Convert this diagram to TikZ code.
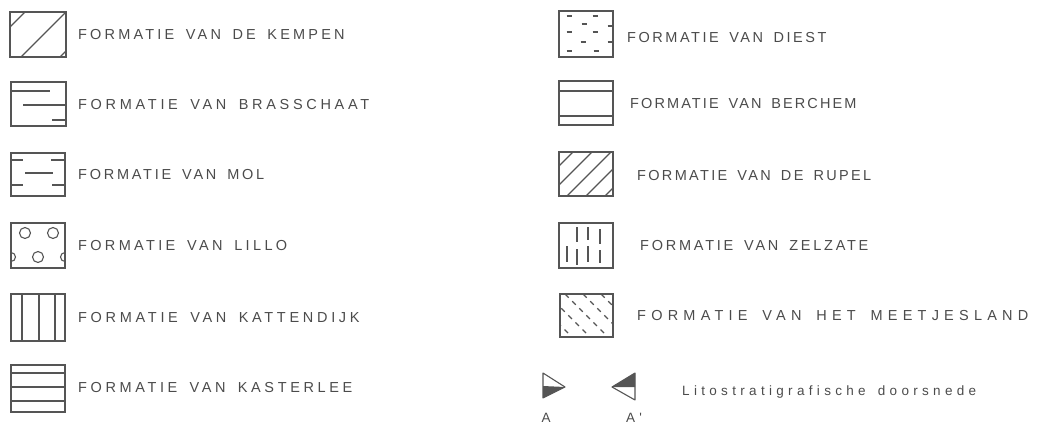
\documentclass[tikz,border=0pt]{standalone}
\usepackage{fontspec}
\setmainfont{Liberation Sans}
\newfontfamily\legfont{Liberation Sans}[WordSpace=1.6]
\newfontfamily\smallfont{Liberation Sans}[LetterSpace=32,WordSpace=1.5]
\newcommand\spaced[2]{{\addfontfeature{LetterSpace=#1}#2}}
\definecolor{boxgray}{RGB}{85,85,85}
\definecolor{textgray}{RGB}{75,75,75}
\begin{document}
\begin{tikzpicture}[x=1pt,y=-1pt,
  frame/.style={draw=boxgray, line width=1.1pt},
  hatch/.style={draw=boxgray, line width=1.1pt},
  dot/.style={draw=boxgray, line width=1.6pt},
  lab/.style={anchor=west, inner sep=0pt, text=textgray, font=\legfont\fontsize{14.5}{15}\selectfont},
  slab/.style={anchor=west, inner sep=0pt, text=textgray, font=\smallfont\fontsize{13.5}{14}\selectfont},
]
\useasboundingbox (0,0) rectangle (1038,428);

% ---------- left column ----------
% Kempen
\draw[frame] (10,12) rectangle (66,57);
\draw[hatch] (10,27) -- (25,12);
\draw[hatch] (21,57) -- (66,12);
\draw[hatch] (60,57) -- (66,51);
\node[lab] (t1) at (78,35) {\spaced{22}{FORMATIE VAN DE KEMPEN}};

% Brasschaat
\draw[frame] (11,82) rectangle (66,126);
\draw[hatch] (11,91) -- (50,91);
\draw[hatch] (23,105) -- (66,105);
\draw[hatch] (52,120) -- (66,120);
\node[lab] (t2) at (78,105) {\spaced{25.5}{FORMATIE VAN BRASSCHAAT}};

% Mol
\draw[frame] (11,153) rectangle (65,196);
\draw[hatch] (11,160) -- (23,160);
\draw[hatch] (51,160) -- (65,160);
\draw[hatch] (25,173) -- (53,173);
\draw[hatch] (11,185) -- (23,185);
\draw[hatch] (52,185) -- (65,185);
\node[lab] (t3) at (78,175) {\spaced{19}{FORMATIE VAN MOL}};

% Lillo
\draw[frame] (11,223) rectangle (65,268);
\draw[hatch] (25,233) circle (5.5);
\draw[hatch] (53,233) circle (5.5);
\draw[hatch] (38,257) circle (5.5);
\begin{scope}
  \clip (11,223) rectangle (65,268);
  \draw[hatch] (11,257) circle (4.5);
  \draw[hatch] (65,257) circle (4.5);
\end{scope}
\node[lab] (t4) at (78,246) {\spaced{23}{FORMATIE VAN LILLO}};

% Kattendijk
\draw[frame] (11,294) rectangle (65,341);
\draw[hatch] (22,294) -- (22,341);
\draw[hatch] (39,294) -- (39,341);
\draw[hatch] (55,294) -- (55,341);
\node[lab] (t5) at (78,318) {\spaced{25.5}{FORMATIE VAN KATTENDIJK}};

% Kasterlee
\draw[frame] (11,365) rectangle (65,412);
\draw[hatch] (11,373) -- (65,373);
\draw[hatch] (11,387) -- (65,387);
\draw[hatch] (11,401) -- (65,401);
\node[lab] (t6) at (78,388) {\spaced{25}{FORMATIE VAN KASTERLEE}};

% ---------- right column ----------
% Diest
\draw[frame] (559,11) rectangle (613,57);
\foreach \x/\y in {569/16,595/16,584/24,610/26,569/32,595/32,583/42,610/42,569/51,596/51}
  \draw[dot] (\x-2.5,\y) -- (\x+2.5,\y);
\node[lab] (t7) at (627,38) {\spaced{17.5}{FORMATIE VAN DIEST}};

% Berchem
\draw[frame] (559,81) rectangle (613,125);
\draw[hatch] (559,91) -- (613,91);
\draw[hatch] (559,116) -- (613,116);
\node[lab] (t8) at (630,104) {\spaced{14.5}{FORMATIE VAN BERCHEM}};

% Rupel
\draw[frame] (559,152) rectangle (613,196);
\begin{scope}
  \clip (559,152) rectangle (613,196);
  \foreach \c in {725,744,763,782,801}
    \draw[hatch] (\c-200,200) -- (\c-148,148);
\end{scope}
\node[lab] (t9) at (637,176) {\spaced{16}{FORMATIE VAN DE RUPEL}};

% Zelzate
\draw[frame] (559,223) rectangle (613,268);
\draw[hatch] (567,246) -- (567,262);
\draw[hatch] (577,227) -- (577,242);
\draw[hatch] (577,249) -- (577,265);
\draw[hatch] (588,227) -- (588,240);
\draw[hatch] (588,246) -- (588,262);
\draw[hatch] (600,229) -- (600,244);
\draw[hatch] (600,250) -- (600,263);
\node[lab] (t10) at (640,246) {\spaced{19}{FORMATIE VAN ZELZATE}};

% Meetjesland
\draw[frame] (560,294) rectangle (613,337);
\begin{scope}
  \clip (560,294) rectangle (613,337);
  \foreach \k in {235,253,271,289,307}
    \draw[hatch, dash pattern=on 5pt off 5pt] (\k+280,280) -- (\k+350,350);
\end{scope}
\node[lab] (t11) at (637,316) {\spaced{36}{FORMATIE VAN HET MEETJESLAND}};

% ---------- section markers ----------
\coordinate (a1) at (543,373);
\coordinate (a2) at (543,398);
\coordinate (a3) at (565,387);
\fill[boxgray] (543,386) -- (a3) -- (a2) -- cycle;
\draw[hatch, line join=round] (a1) -- (a3) -- (a2) -- cycle;
\node[slab, anchor=center] (la) at (546,418) {A};

\coordinate (b1) at (635,373);
\coordinate (b2) at (635,400);
\coordinate (b3) at (612,387);
\fill[boxgray] (b1) -- (b3) -- (635,387) -- cycle;
\draw[hatch, line join=round] (b1) -- (b3) -- (b2) -- cycle;
\node[slab, anchor=center] (lb) at (634,418) {A'};

\node[slab] (t12) at (682,392) {Litostratigrafische doorsnede};
\end{tikzpicture}
\end{document}
